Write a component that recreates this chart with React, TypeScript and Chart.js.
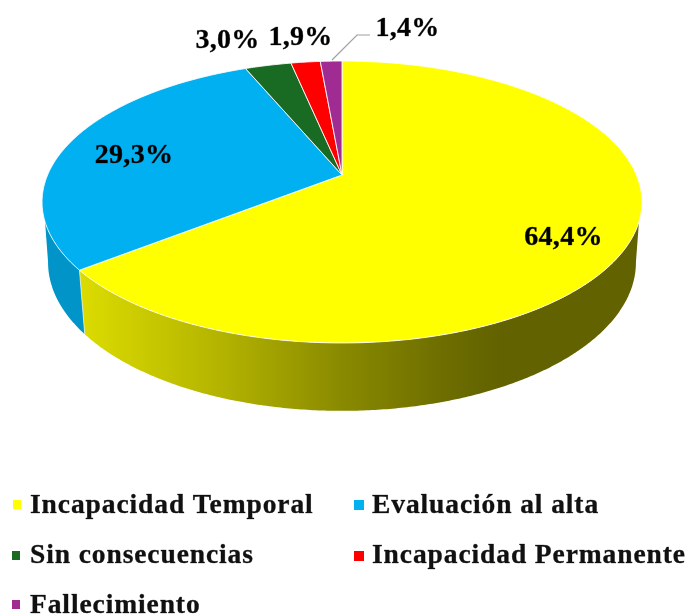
import React, { useEffect, useRef } from "react";
import { Chart, registerables } from "chart.js";

Chart.register(...registerables);

const categories = ["Incapacidad Temporal", "Evaluación al alta", "Sin consecuencias", "Incapacidad Permanente", "Fallecimiento"];
const shares = [64.4, 29.3, 3.0, 1.9, 1.4];
const colors = ["#ffff00", "#00b0f0", "#196b24", "#ff0000", "#a02b93"];

const labelSpots = [
  { x: 563.5, y: 245 },
  { x: 134, y: 163 },
  { x: 227.5, y: 48 },
  { x: 300.5, y: 45 },
  { x: 407.5, y: 36 },
];
const legendSpots = [
  { box: [13, 500], tx: 30, ty: 513 },
  { box: [354, 500], tx: 372, ty: 513 },
  { box: [12, 551], tx: 30, ty: 563 },
  { box: [354, 551], tx: 372, ty: 563 },
  { box: [12, 600], tx: 30, ty: 612.5 },
];

const topFace = { cx: 342, cy: 175, rx: 294.4, ry: 135.8, k: -0.1915 };
const baseFace = { cx: 342, cy: 234, rx: 288.5, ry: 143, k: -0.1915 };

type Face = typeof topFace;
const project = (f: Face, a: number) => {
  const d = 1 + f.k * Math.sin(a);
  return [f.cx + (f.rx * Math.cos(a)) / d, f.cy + (f.ry * Math.sin(a)) / d];
};
const trace = (ctx: CanvasRenderingContext2D, f: Face, from: number, to: number, first: boolean) => {
  const n = Math.max(2, Math.ceil(Math.abs(to - from) * 120));
  for (let i = 0; i <= n; i++) {
    const [x, y] = project(f, from + ((to - from) * i) / n);
    if (first && i === 0) ctx.moveTo(x, y);
    else ctx.lineTo(x, y);
  }
};

const baseEdge = 0.19;
const topEdge = 0.33;

const wallFill = (ctx: CanvasRenderingContext2D, index: number) => {
  if (index !== 0) return "#0094c8";
  const g = ctx.createLinearGradient(80, 0, 500, 0);
  g.addColorStop(0, "#dcdc00");
  g.addColorStop(0.33, "#b4b400");
  g.addColorStop(0.62, "#8a8a00");
  g.addColorStop(0.88, "#6c6c00");
  g.addColorStop(1, "#626200");
  return g;
};

const pie3d = {
  id: "pie3d",
  beforeDatasetDraw(chart: any) {
    const ctx: CanvasRenderingContext2D = chart.ctx;
    const arcs = chart.getDatasetMeta(0).data;
    ctx.save();
    arcs.forEach((arc: any, i: number) => {
      const s = arc.startAngle;
      const e = arc.endAngle;
      const t0 = Math.max(s, topEdge);
      const t1 = Math.min(e, Math.PI - topEdge);
      const b0 = Math.max(s, baseEdge);
      const b1 = Math.min(e, Math.PI - baseEdge);
      if (b1 <= b0 || t1 <= t0) return;
      ctx.beginPath();
      trace(ctx, topFace, t0, t1, true);
      trace(ctx, baseFace, b1, b0, false);
      ctx.closePath();
      ctx.fillStyle = wallFill(ctx, i);
      ctx.fill();
    });
    arcs.forEach((arc: any, i: number) => {
      ctx.beginPath();
      ctx.moveTo(topFace.cx, topFace.cy);
      trace(ctx, topFace, arc.startAngle, arc.endAngle, false);
      ctx.closePath();
      ctx.fillStyle = colors[i];
      ctx.fill();
      ctx.strokeStyle = "rgba(255,255,255,0.85)";
      ctx.lineWidth = 1;
      ctx.stroke();
    });
    // split line on the wall between the first two slices
    const split = arcs[0].endAngle;
    const [ax, ay] = project(topFace, split);
    const [bx, by] = project(baseFace, split);
    ctx.beginPath();
    ctx.moveTo(ax, ay);
    ctx.lineTo(bx, by);
    ctx.strokeStyle = "rgba(255,255,255,0.6)";
    ctx.lineWidth = 1;
    ctx.stroke();
    ctx.restore();
    return false;
  },
  afterDatasetsDraw(chart: any) {
    const ctx: CanvasRenderingContext2D = chart.ctx;
    ctx.save();
    // leader line for the smallest slice
    ctx.beginPath();
    ctx.moveTo(332, 60);
    ctx.lineTo(357, 35);
    ctx.lineTo(370, 35);
    ctx.strokeStyle = "#a0a0a0";
    ctx.lineWidth = 1.2;
    ctx.stroke();

    ctx.fillStyle = "#000000";
    ctx.strokeStyle = "rgba(0,0,0,0.55)";
    ctx.lineWidth = 0.5;
    ctx.lineJoin = "round";
    ctx.font = 'bold 28px "Liberation Serif"';
    (ctx as any).letterSpacing = "0.3px";
    ctx.textAlign = "center";
    ctx.textBaseline = "alphabetic";
    shares.forEach((v, i) => {
      const text = v.toFixed(1).replace(".", ",") + "%";
      ctx.fillText(text, labelSpots[i].x, labelSpots[i].y);
      ctx.strokeText(text, labelSpots[i].x, labelSpots[i].y);
    });

    ctx.textAlign = "left";
    ctx.font = 'bold 27.5px "Liberation Serif"';
    (ctx as any).letterSpacing = "0.9px";
    categories.forEach((name, i) => {
      const p = legendSpots[i];
      ctx.fillStyle = colors[i];
      ctx.fillRect(p.box[0], p.box[1], i % 2 ? 10 : 8, i % 2 ? 10 : 9);
      ctx.fillStyle = "#111111";
      ctx.fillText(name, p.tx, p.ty);
      ctx.strokeText(name, p.tx, p.ty);
    });
    ctx.restore();
  },
};

export default function App() {
  const ref = useRef<HTMLCanvasElement>(null);
  useEffect(() => {
    const chart = new Chart(ref.current!, {
      type: "pie",
      data: {
        labels: categories,
        datasets: [{ data: shares, backgroundColor: colors, borderWidth: 0 }],
      },
      options: {
        animation: false,
        responsive: false,
        plugins: { legend: { display: false }, tooltip: { enabled: false } },
      },
      plugins: [pie3d],
    } as any);
    return () => chart.destroy();
  }, []);
  return (
    <div style={{ position: "fixed", left: 0, top: 0, width: 688, height: 614, background: "#fff" }}>
      <canvas ref={ref} width={688} height={614} style={{ display: "block" }} />
    </div>
  );
}
